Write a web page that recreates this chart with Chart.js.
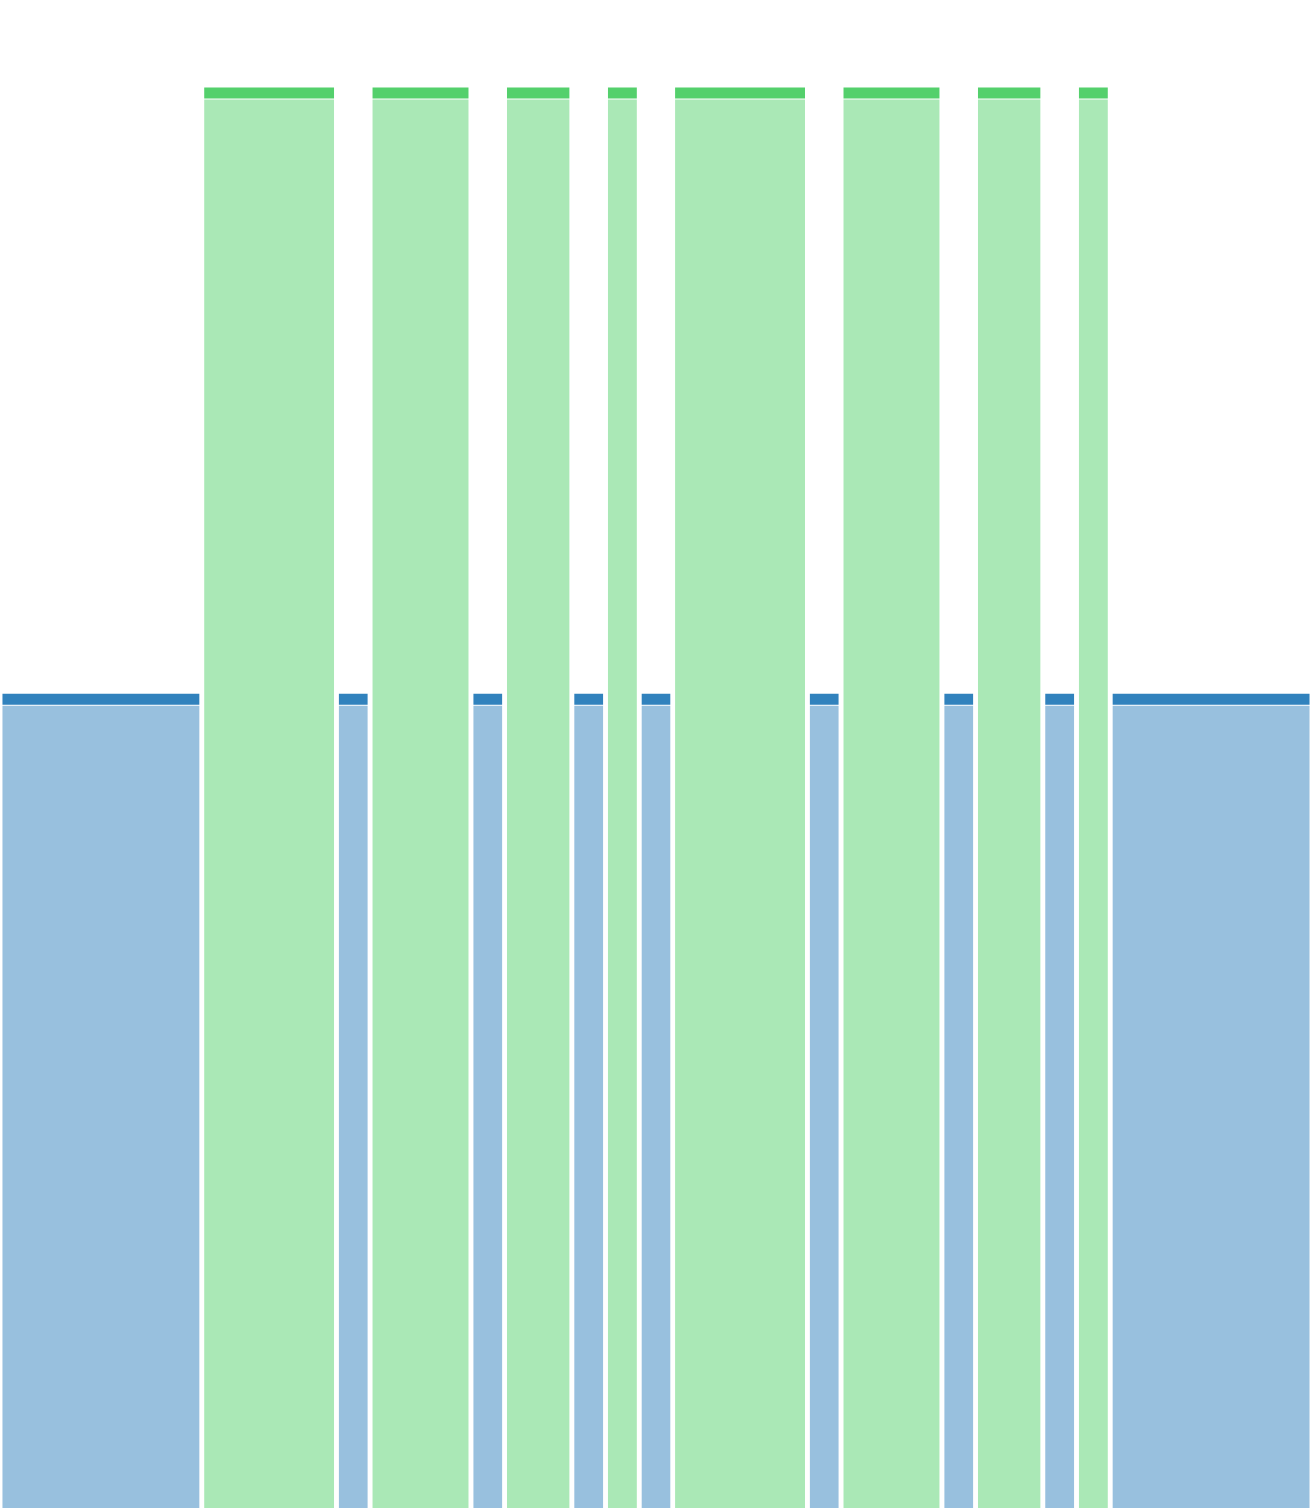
<!DOCTYPE html>
<html>
<head>
<meta charset="utf-8">
<style>
  html, body { margin: 0; padding: 0; background: #fff; }
  #chart { display: block; }
</style>
<script src="https://cdn.jsdelivr.net/npm/chart.js@4/dist/chart.umd.min.js"></script>
</head>
<body>
<canvas id="chart" width="1312" height="1508"></canvas>
<script>
// segment widths (in units), which group each belongs to, and its value
const widths = [6, 4, 1, 3, 1, 2, 1, 1, 1, 4, 1, 3, 1, 2, 1, 1, 6];
const groups = ['a', 'b', 'a', 'b', 'a', 'b', 'a', 'b', 'a', 'b', 'a', 'b', 'a', 'b', 'a', 'b', 'a'];
const values = [54, 94.2, 54, 94.2, 54, 94.2, 54, 94.2, 54, 94.2, 54, 94.2, 54, 94.2, 54, 94.2, 54];

const topColor = { a: '#3182bd', b: '#54d06c' };
const fillColor = { a: '#98c0de', b: '#aae8b6' };

const GAP = 0.135;   // white gap between segments, x units
const BAND = 0.73;   // dark cap height, y units
const LINE = 0.07;   // thin white line under the cap

const total = widths.reduce((s, w) => s + w, 0);

function rect(x0, x1, lo, hi, color) {
    return {
        data: [{ x: x0, y: hi }, { x: x1, y: hi }],
        fill: { value: lo },
        backgroundColor: color,
        borderWidth: 0,
        pointRadius: 0,
        tension: 0
    };
}

const datasets = [];
let start = 0;
widths.forEach(function(w, i) {
    const x0 = start + GAP / 2;
    const x1 = start + w - GAP / 2;
    const v = values[i];
    const g = groups[i];
    datasets.push(rect(x0, x1, 0, v - BAND - LINE, fillColor[g]));
    datasets.push(rect(x0, x1, v - BAND, v, topColor[g]));
    start += w;
});

new Chart(document.getElementById('chart'), {
    type: 'line',
    data: { datasets: datasets },
    options: {
        responsive: false,
        animation: false,
        devicePixelRatio: 1,
        layout: { padding: 0 },
        plugins: { legend: { display: false }, tooltip: { enabled: false } },
        scales: {
            x: { type: 'linear', min: 0, max: total, display: false },
            y: { min: 0, max: 100, display: false }
        }
    }
});
</script>
</body>
</html>
